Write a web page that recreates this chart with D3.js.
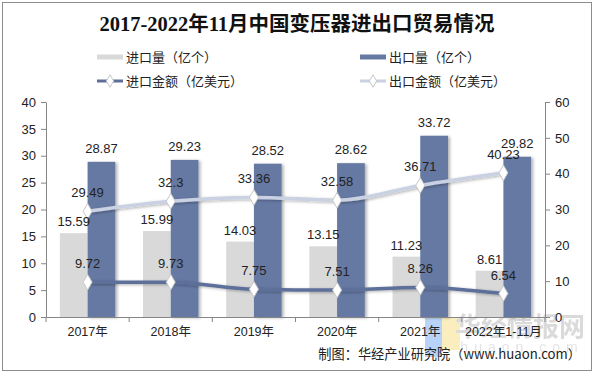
<!DOCTYPE html>
<html>
<head>
<meta charset="utf-8">
<script src="https://cdn.jsdelivr.net/npm/d3@7"></script>
<style>
  body { margin: 0; background: #fff; }
  svg text { font-family: "Liberation Sans", Arial, "Noto Sans CJK SC", sans-serif; }
</style>
</head>
<body>
<div id="viz"></div>
<script>
// chart data
const years = ["2017年", "2018年", "2019年", "2020年", "2021年", "2022年1-11月"];
const importQty = [15.59, 15.99, 14.03, 13.15, 11.23, 8.61];   // 进口量（亿个）
const exportQty = [28.87, 29.23, 28.52, 28.62, 33.72, 29.82];  // 出口量（亿个）
const importAmt = [9.72, 9.73, 7.75, 7.51, 8.26, 6.54];        // 进口金额（亿美元）
const exportAmt = [29.49, 32.3, 33.36, 32.58, 36.71, 40.23];   // 出口金额（亿美元）
const leftTicks = [0, 5, 10, 15, 20, 25, 30, 35, 40];
const rightTicks = [0, 10, 20, 30, 40, 50, 60];

const W = 595, H = 374;
const plot = { left: 46, right: 545, top: 102, bottom: 317 };

const svg = d3.select("#viz").append("svg")
    .attr("width", W)
    .attr("height", H);

// shadow used by bars and lines
const defs = svg.append("defs");
const shadow = defs.append("filter").attr("id", "shadow")
    .attr("x", "-20%").attr("y", "-20%").attr("width", "150%").attr("height", "150%");
shadow.append("feDropShadow")
    .attr("dx", 2).attr("dy", 1).attr("stdDeviation", 1.5)
    .attr("flood-color", "#000").attr("flood-opacity", 0.3);

// outer frame
svg.append("rect")
    .attr("x", 2.5).attr("y", 2.5)
    .attr("width", 589).attr("height", 368)
    .attr("fill", "#fff")
    .attr("stroke", "#8c8c8c");

// title
svg.append("text")
    .attr("x", 297).attr("y", 31)
    .attr("text-anchor", "middle")
    .style("font-family", "'Liberation Serif', 'Noto Sans CJK SC', serif")
    .style("font-weight", "bold")
    .style("font-size", "20.5px")
    .attr("fill", "#111")
    .text("2017-2022年11月中国变压器进出口贸易情况");

// scales
const x = d3.scaleBand().domain(years).range([plot.left, plot.right]);
const xSub = d3.scaleBand().domain(["imp", "exp"])
    .range([0, x.bandwidth()])
    .paddingOuter(0.5).paddingInner(0);
const yLeft = d3.scaleLinear().domain([0, 40]).range([plot.bottom, plot.top]);
const yRight = d3.scaleLinear().domain([0, 60]).range([plot.bottom, plot.top]);

const grayBar = "#d9d9d9";
const blueBar = "#6679a3";
const impLine = "#5d6f99";
const expLine = "#c9d1e2";

// watermark (behind the marks)
const wm = svg.append("g").attr("opacity", 0.55);
wm.append("rect").attr("x", 425).attr("y", 317).attr("width", 17).attr("height", 40).attr("fill", "#7fb0f2");
wm.append("rect").attr("x", 442).attr("y", 317).attr("width", 18).attr("height", 33).attr("fill", "#f7df8a");
wm.append("text")
    .attr("x", 520).attr("y", 336)
    .attr("text-anchor", "middle")
    .style("font-family", "'Noto Sans CJK SC', sans-serif")
    .style("font-weight", "bold")
    .style("font-size", "26px")
    .attr("fill", "#bdbdbd")
    .text("华经情报网");
wm.append("text")
    .attr("x", 522).attr("y", 352)
    .attr("text-anchor", "middle")
    .style("font-size", "14px")
    .style("letter-spacing", "6px")
    .attr("fill", "#cfcfcf")
    .text("huaon.com");

// bars
const groups = svg.append("g").selectAll("g")
    .data(years)
    .join("g")
    .attr("transform", d => `translate(${x(d)},0)`);

groups.append("rect")
    .attr("x", xSub("imp"))
    .attr("y", (d, i) => yLeft(importQty[i]))
    .attr("width", xSub.bandwidth())
    .attr("height", (d, i) => plot.bottom - yLeft(importQty[i]))
    .attr("fill", grayBar);

groups.append("rect")
    .attr("x", xSub("exp"))
    .attr("y", (d, i) => yLeft(exportQty[i]))
    .attr("width", xSub.bandwidth())
    .attr("height", (d, i) => plot.bottom - yLeft(exportQty[i]))
    .attr("fill", blueBar)
    .attr("filter", "url(#shadow)");

// axes
const axisColor = "#868686";
const gx = svg.append("g")
    .attr("transform", `translate(0,${plot.bottom})`)
    .call(d3.axisBottom(x).tickSize(0).tickPadding(10));
gx.selectAll("line.sep")
    .data(d3.range(years.length + 1))
    .join("line")
    .attr("class", "sep")
    .attr("x1", i => plot.left + i * x.step()).attr("x2", i => plot.left + i * x.step())
    .attr("y1", 0).attr("y2", 5)
    .attr("stroke", axisColor);

const gl = svg.append("g")
    .attr("transform", `translate(${plot.left},0)`)
    .call(d3.axisLeft(yLeft).tickValues(leftTicks).tickSize(5).tickSizeOuter(0).tickPadding(5));
const gr = svg.append("g")
    .attr("transform", `translate(${plot.right},0)`)
    .call(d3.axisRight(yRight).tickValues(rightTicks).tickSize(5).tickSizeOuter(0).tickPadding(5));

[gx, gl, gr].forEach(g => {
    g.select(".domain").attr("stroke", axisColor);
    g.selectAll(".tick line").attr("stroke", axisColor);
    g.selectAll("text")
        .attr("fill", "#222")
        .style("font-size", "13px")
        .style("font-family", "'Liberation Sans', 'Noto Sans CJK SC', sans-serif");
});
gx.selectAll("text").style("font-size", "12.5px");

// lines
const cx = d => x(d) + x.bandwidth() / 2;
const line = d3.line()
    .x(d => cx(d[0]))
    .y(d => yRight(d[1]))
    .curve(d3.curveMonotoneX);

const series = [
    { values: exportAmt, color: expLine },
    { values: importAmt, color: impLine }
];

series.forEach(s => {
    const pts = years.map((y, i) => [y, s.values[i]]);
    svg.append("path")
        .datum(pts)
        .attr("fill", "none")
        .attr("stroke", s.color)
        .attr("stroke-width", 3.5)
        .attr("filter", "url(#shadow)")
        .attr("d", line);
    svg.append("g").selectAll("path")
        .data(pts)
        .join("path")
        .attr("d", d3.symbol(d3.symbolDiamond, 70))
        .attr("transform", d => `translate(${cx(d[0])},${yRight(d[1])})`)
        .attr("fill", "#fff")
        .attr("stroke", "#c8c8c8")
        .attr("stroke-width", 1);
});

// data labels
const labelStyle = sel => sel
    .attr("text-anchor", "middle")
    .attr("fill", "#222")
    .style("font-size", "13px");

svg.append("g").selectAll("text")
    .data(years)
    .join("text")
    .attr("x", d => x(d) + xSub("imp") + xSub.bandwidth() / 2)
    .attr("y", (d, i) => yLeft(importQty[i]) - 7)
    .text((d, i) => importQty[i])
    .call(labelStyle);

svg.append("g").selectAll("text")
    .data(years)
    .join("text")
    .attr("x", d => x(d) + xSub("exp") + xSub.bandwidth() / 2)
    .attr("y", (d, i) => yLeft(exportQty[i]) - 9)
    .text((d, i) => exportQty[i])
    .call(labelStyle);

[importAmt, exportAmt].forEach(vals => {
    svg.append("g").selectAll("text")
        .data(years)
        .join("text")
        .attr("x", d => cx(d))
        .attr("y", (d, i) => yRight(vals[i]) - 14)
        .text((d, i) => vals[i])
        .call(labelStyle);
});

// legend
const legendItems = [
    { name: "进口量（亿个）", color: grayBar, type: "bar", x: 97, y: 57 },
    { name: "出口量（亿个）", color: blueBar, type: "bar", x: 360, y: 57 },
    { name: "进口金额（亿美元）", color: impLine, type: "line", x: 97, y: 81 },
    { name: "出口金额（亿美元）", color: expLine, type: "line", x: 360, y: 81 }
];
const lg = svg.append("g").selectAll("g")
    .data(legendItems)
    .join("g")
    .attr("transform", d => `translate(${d.x},${d.y})`);
lg.append("line")
    .attr("x1", 0).attr("x2", 26)
    .attr("stroke", d => d.color)
    .attr("stroke-width", d => d.type === "bar" ? 5 : 3);
lg.filter(d => d.type === "line").append("path")
    .attr("d", d3.symbol(d3.symbolDiamond, 45))
    .attr("transform", "translate(13,0)")
    .attr("fill", "#fff")
    .attr("stroke", "#c8c8c8");
lg.append("text")
    .attr("x", 29).attr("y", 5)
    .attr("fill", "#222")
    .style("font-family", "'Noto Sans CJK SC', sans-serif")
    .style("font-size", "13px")
    .text(d => d.name);

// source note
svg.append("text")
    .attr("x", 581).attr("y", 359)
    .attr("text-anchor", "end")
    .attr("fill", "#222")
    .style("font-family", "'Noto Sans CJK SC', sans-serif")
    .style("font-size", "13.2px")
    .text("制图：华经产业研究院（www.huaon.com）");
</script>
</body>
</html>
